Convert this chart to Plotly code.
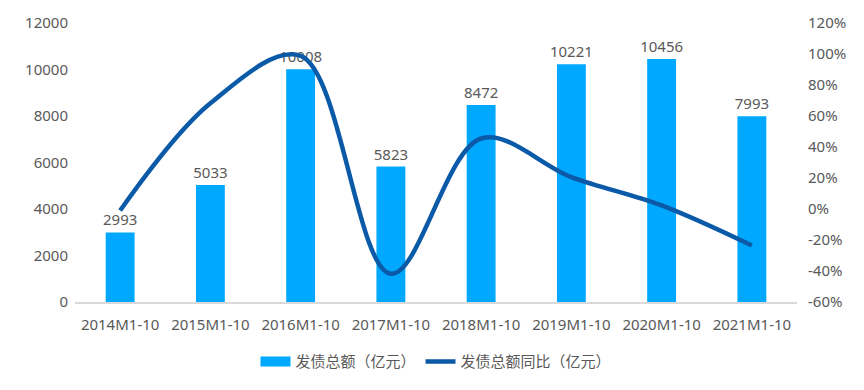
import plotly.graph_objects as go

categories = ["2014M1-10", "2015M1-10", "2016M1-10", "2017M1-10",
              "2018M1-10", "2019M1-10", "2020M1-10", "2021M1-10"]
issuance = [2993, 5033, 10008, 5823, 8472, 10221, 10456, 7993]
yoy_pct = [-1.0, 68.2, 98.8, -41.8, 45.5, 20.6, 2.3, -23.6]

left_ticks = [0, 2000, 4000, 6000, 8000, 10000, 12000]
right_ticks = [-60, -40, -20, 0, 20, 40, 60, 80, 100, 120]

FONT = "Segoe UI, Noto Sans, Noto Sans CJK SC, sans-serif"
GRAY = "#595959"
BAR_COLOR = "#00A8FF"
LINE_COLOR = "#0B5AA8"

fig = go.Figure()
fig.add_trace(go.Bar(
    x=categories, y=issuance, name="发债总额（亿元）",
    marker=dict(color=BAR_COLOR, line=dict(width=0)),
    width=0.32, showlegend=False,
    text=[str(v) for v in issuance], textposition="outside",
    textfont=dict(size=15, color=GRAY, family=FONT),
    constraintext="none",
    cliponaxis=False,
))
# legend stand-in for bars (wide rectangle swatch)
fig.add_trace(go.Scatter(
    x=[None], y=[None], name="发债总额（亿元）", mode="lines",
    line=dict(color=BAR_COLOR, width=10),
))
fig.add_trace(go.Scatter(
    x=categories, y=yoy_pct, name="发债总额同比（亿元）", yaxis="y2",
    mode="lines", line=dict(color=LINE_COLOR, width=4.5, shape="spline", smoothing=1.0),
))

fig.update_layout(
    width=864, height=390,
    margin=dict(l=75, r=67, t=21, b=85),
    paper_bgcolor="white", plot_bgcolor="white",
    font=dict(family=FONT, size=15, color=GRAY),
    bargap=0.68,
    showlegend=True,
    legend=dict(orientation="h", x=0.5, xanchor="center", y=-0.155, yanchor="top",
                font=dict(size=15, color=GRAY)),
    xaxis=dict(showgrid=False, showline=True, linecolor="#D9D9D9", linewidth=1.5,
               ticks="", ticklabelstandoff=8, tickfont=dict(size=15, color=GRAY)),
    yaxis=dict(range=[0, 12000], tickvals=left_ticks,
               ticktext=[str(v) for v in left_ticks],
               showgrid=False, zeroline=False, ticklabelstandoff=6,
               showline=False, ticks="", tickfont=dict(size=15, color=GRAY)),
    yaxis2=dict(range=[-60, 120], tickvals=right_ticks,
                ticktext=[f"{v}%" for v in right_ticks],
                overlaying="y", side="right", showgrid=False, zeroline=False,
                ticklabelstandoff=10,
                showline=False, ticks="", tickfont=dict(size=15, color=GRAY)),
)

fig.write_html("out.html")
